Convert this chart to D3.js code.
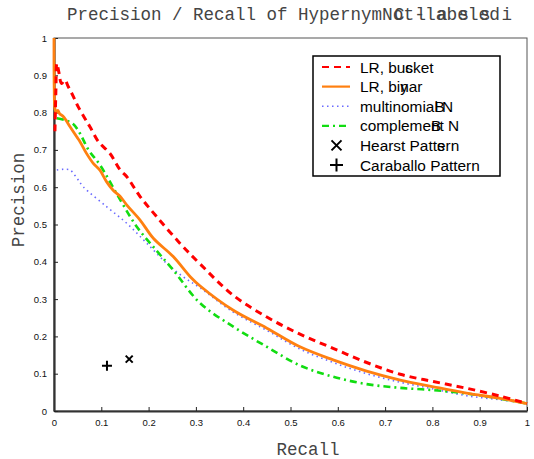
<!DOCTYPE html>
<html lang="en">
<head>
<meta charset="UTF-8">
<title>Precision / Recall</title>
<script src="https://d3js.org/d3.v7.min.js"></script>
<style>
    body { margin: 0; background: #fff; }
    svg { display: block; }
    .tick text { font-family: "Liberation Sans", Arial, sans-serif; font-size: 9.5px; fill: #111; }
    .mono { font-family: "Liberation Mono", "DejaVu Sans Mono", monospace; font-size: 17.5px; fill: #444; }
    .leg { font-family: "Liberation Sans", Arial, sans-serif; font-size: 15.4px; fill: #000; }
</style>
</head>
<body>
<svg id="canvas" width="534" height="459"></svg>
<script>
// LR, bucket
let bucketR = [0.002, 0.004, 0.006, 0.01, 0.016, 0.023, 0.03, 0.041, 0.051, 0.065, 0.076, 0.094, 0.118, 0.14, 0.154, 0.182, 0.217, 0.266, 0.309, 0.379, 0.45, 0.52, 0.59, 0.661, 0.732, 0.802, 0.872, 0.943, 1];
let bucketP = [0.75, 0.86, 0.932, 0.91, 0.878, 0.887, 0.87, 0.843, 0.816, 0.785, 0.762, 0.722, 0.691, 0.646, 0.628, 0.575, 0.521, 0.45, 0.394, 0.31, 0.252, 0.206, 0.168, 0.13, 0.0985, 0.079, 0.061, 0.04, 0.02];
// LR, binary
let binaryR = [0, 0.0005, 0.002, 0.005, 0.008, 0.012, 0.02, 0.034, 0.048, 0.055, 0.069, 0.083, 0.097, 0.111, 0.125, 0.14, 0.154, 0.182, 0.21, 0.252, 0.288, 0.309, 0.379, 0.45, 0.52, 0.59, 0.661, 0.732, 0.802, 0.872, 0.943, 1];
let binaryP = [1, 0.86, 0.81, 0.8, 0.806, 0.797, 0.789, 0.762, 0.735, 0.722, 0.69, 0.664, 0.646, 0.615, 0.592, 0.575, 0.552, 0.512, 0.463, 0.414, 0.36, 0.335, 0.27, 0.222, 0.172, 0.137, 0.107, 0.083, 0.065, 0.048, 0.034, 0.02];
// multinomial NB
let multiR = [0.006, 0.02, 0.034, 0.048, 0.062, 0.111, 0.154, 0.196, 0.238, 0.273, 0.309, 0.379, 0.45, 0.52, 0.59, 0.661, 0.732, 0.802, 0.872, 0.943, 1];
let multiP = [0.646, 0.648, 0.646, 0.625, 0.601, 0.548, 0.503, 0.45, 0.396, 0.36, 0.33, 0.265, 0.216, 0.166, 0.13, 0.1, 0.077, 0.059, 0.041, 0.03, 0.02];
// complement NB
let complR = [0.006, 0.023, 0.04, 0.055, 0.073, 0.097, 0.14, 0.175, 0.21, 0.252, 0.309, 0.379, 0.45, 0.52, 0.59, 0.661, 0.732, 0.802, 0.872, 0.943, 1];
let complP = [0.785, 0.78, 0.77, 0.744, 0.7, 0.66, 0.566, 0.494, 0.44, 0.378, 0.289, 0.226, 0.172, 0.122, 0.092, 0.072, 0.062, 0.056, 0.047, 0.033, 0.02];
// single points
let hearst = [0.159, 0.139];
let caraballo = [0.112, 0.121];

let xTicks = [0, 0.1, 0.2, 0.3, 0.4, 0.5, 0.6, 0.7, 0.8, 0.9, 1];
let yTicks = [0, 0.1, 0.2, 0.3, 0.4, 0.5, 0.6, 0.7, 0.8, 0.9, 1];

// legend text: main string, overprinted char, index where it lands
let legendNames = ["LR, bucket", "LR, binar", "multinomial N", "complement N", "Hearst Pattern", "Caraballo Pattern"];
let legendOver = ["s", "y", "B", "B", "s", ""];
let legendOverAt = [6, 6, 10, 8, 11, 0];

let svg = d3.select('#canvas');
let plotL = 54, plotR = 527, plotT = 38, plotB = 411;

let x = d3.scaleLinear().domain([0, 1]).range([plotL, plotR]);
let y = d3.scaleLinear().domain([0, 1]).range([plotB, plotT]);

// frame
svg.append('rect')
    .attr('x', plotL).attr('y', plotT)
    .attr('width', plotR - plotL).attr('height', plotB - plotT)
    .attr('fill', 'none').attr('stroke', '#555').attr('stroke-width', 1);

let xAxis = svg.append('g')
    .attr('transform', `translate(0,${plotB})`)
    .call(d3.axisBottom(x).tickValues(xTicks).tickSizeInner(-4).tickSizeOuter(0).tickPadding(8)
        .tickFormat(d3.format('')));
let yAxis = svg.append('g')
    .attr('transform', `translate(${plotL},0)`)
    .call(d3.axisLeft(y).tickValues(yTicks).tickSizeInner(-4).tickSizeOuter(0).tickPadding(7)
        .tickFormat(d3.format('')));
[xAxis, yAxis].forEach(a => {
    a.select('.domain').attr('stroke', '#333').attr('stroke-width', 2.2);
    a.selectAll('.tick line').attr('stroke', '#222').attr('stroke-width', 1);
});

let line = d3.line().curve(d3.curveCatmullRom.alpha(0.5)).x(d => x(d[0])).y(d => y(d[1]));
let zip = (a, b) => a.map((v, i) => [v, b[i]]);

let series = [
    {data: zip(multiR, multiP), color: '#6a6aff', width: 1.6, dash: '1.5,3.5'},
    {data: zip(complR, complP), color: '#11dd11', width: 2.6, dash: '7,4,2,4'},
    {data: zip(binaryR, binaryP), color: '#ff8010', width: 2.8, dash: null},
    {data: zip(bucketR, bucketP), color: '#ff0000', width: 3, dash: '7,5'}
];
series.forEach(s => {
    svg.append('path')
        .datum(s.data)
        .attr('d', line)
        .attr('fill', 'none')
        .attr('stroke', s.color)
        .attr('stroke-width', s.width)
        .attr('stroke-dasharray', s.dash);
});

function cross(g, cx, cy, r, w) {
    g.append('path').attr('d', `M${cx - r},${cy - r}L${cx + r},${cy + r}M${cx - r},${cy + r}L${cx + r},${cy - r}`)
        .attr('stroke', '#000').attr('stroke-width', w);
}
function plus(g, cx, cy, r, w) {
    g.append('path').attr('d', `M${cx - r},${cy}L${cx + r},${cy}M${cx},${cy - r}L${cx},${cy + r}`)
        .attr('stroke', '#000').attr('stroke-width', w);
}
cross(svg, x(hearst[0]), y(hearst[1]), 3.5, 2);
plus(svg, x(caraballo[0]), y(caraballo[1]), 5, 2);

// legend
let legend = svg.append('g');
legend.append('rect')
    .attr('x', 313).attr('y', 56).attr('width', 187).attr('height', 120)
    .attr('fill', '#fff').attr('stroke', '#000').attr('stroke-width', 1.5);
let legStyles = [series[3], series[2], series[0], series[1]];
legendNames.forEach((name, i) => {
    let cy = 67 + i * 19.6;
    if (i < 4) {
        let s = legStyles[i];
        legend.append('line')
            .attr('x1', 322).attr('x2', 350).attr('y1', cy).attr('y2', cy)
            .attr('stroke', s.color).attr('stroke-width', Math.min(s.width, 2.2))
            .attr('stroke-dasharray', s.dash);
    } else if (i === 4) {
        cross(legend, 336.5, cy, 5, 2);
    } else {
        plus(legend, 336.5, cy, 6.5, 2);
    }
    let t = legend.append('text').attr('class', 'leg')
        .attr('x', 360).attr('y', cy).attr('dy', '0.36em').text(name);
    if (legendOver[i]) {
        let off = t.node().getSubStringLength(0, legendOverAt[i]);
        legend.append('text').attr('class', 'leg')
            .attr('x', 360 + off).attr('y', cy).attr('dy', '0.36em').text(legendOver[i]);
    }
});

// title with overprinted tail
let title = svg.append('text').attr('class', 'mono')
    .attr('x', 67).attr('y', 20).text('Precision / Recall of Hypernym');
let tEnd = 67 + title.node().getComputedTextLength();
svg.append('text').attr('class', 'mono')
    .attr('x', tEnd).attr('y', 20)
    .attr('textLength', 118).attr('lengthAdjust', 'spacingAndGlyphs').text('Not-labeled');
svg.append('text').attr('class', 'mono')
    .attr('x', tEnd + 12).attr('y', 20)
    .attr('textLength', 118).attr('lengthAdjust', 'spacing').text('Classi');

svg.append('text').attr('class', 'mono')
    .attr('x', 308).attr('y', 455).attr('text-anchor', 'middle').text('Recall');
svg.append('text').attr('class', 'mono')
    .attr('transform', 'translate(24,200) rotate(-90)')
    .attr('text-anchor', 'middle').text('Precision');
</script>
</body>
</html>
